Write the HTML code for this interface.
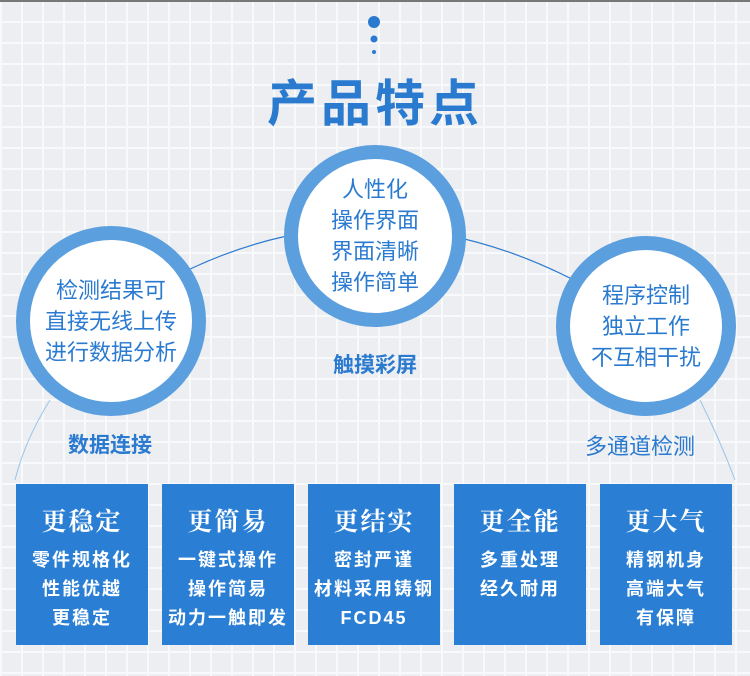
<!DOCTYPE html>
<html><head><meta charset="utf-8"><style>
body{margin:0;}
#p{position:relative;width:750px;height:676px;overflow:hidden;font-family:"Liberation Sans","Noto Sans CJK SC",sans-serif;
background-color:#eceef1;
background-image:linear-gradient(#f8f9fa 2px,transparent 2px),linear-gradient(90deg,#f8f9fa 2px,transparent 2px);
background-size:21px 21px;}
.c{position:absolute;border-radius:50%;background:#fff;border:14px solid #5b9fde;box-sizing:border-box;display:flex;align-items:center;justify-content:center;text-align:center;color:#2a7ad0;font-size:22px;line-height:31px}
.l{position:absolute;color:#2a7ad0;font-size:21px;font-weight:bold;transform:translateX(-50%);white-space:nowrap}
.b{position:absolute;top:484px;width:132px;height:161px;background:#2a7fd4;color:#fff;text-align:center}
.b h3{margin:18px 0 8px;font-family:"Noto Serif CJK SC",serif;font-size:25px;font-weight:bold;letter-spacing:2px}
.b p{margin:0;font-size:18px;line-height:29px;font-weight:bold;letter-spacing:2px}
</style></head><body><div id="p">
<div style="position:absolute;top:0;left:0;width:750px;height:2px;background:#777"></div>
<svg width="750" height="676" style="position:absolute;left:0;top:0">
<circle cx="374" cy="22" r="6" fill="#2a7ad0"/><circle cx="374" cy="39" r="3.5" fill="#2a7ad0"/><circle cx="374" cy="52" r="2" fill="#2a7ad0"/>
<path d="M150 290 Q375 160 610 300" stroke="#2a7ad0" stroke-width="1.2" fill="none"/>
<path d="M50 400 Q25 440 15 480" stroke="#9cc3ea" stroke-width="1" fill="none"/>
<path d="M700 400 Q720 440 735 480" stroke="#9cc3ea" stroke-width="1" fill="none"/>
</svg>
<div class="l" style="left:375px;top:64px;font-size:50px;font-weight:bold;letter-spacing:4px">产品特点</div>
<div class="c" style="left:16px;top:226px;width:190px;height:190px">检测结果可<br>直接无线上传<br>进行数据分析</div>
<div class="c" style="left:284px;top:145px;width:182px;height:182px">人性化<br>操作界面<br>界面清晰<br>操作简单</div>
<div class="c" style="left:556px;top:236px;width:180px;height:180px">程序控制<br>独立工作<br>不互相干扰</div>
<div class="l" style="left:375px;top:349px">触摸彩屏</div>
<div class="l" style="left:110px;top:429px">数据连接</div>
<div class="l" style="left:640px;top:429px;font-weight:normal;font-size:22px">多通道检测</div>
<div class="b" style="left:16px"><h3>更稳定</h3><p>零件规格化<br>性能优越<br>更稳定</p></div>
<div class="b" style="left:162px"><h3>更简易</h3><p>一键式操作<br>操作简易<br>动力一触即发</p></div>
<div class="b" style="left:308px"><h3>更结实</h3><p>密封严谨<br>材料采用铸钢<br>FCD45</p></div>
<div class="b" style="left:454px"><h3>更全能</h3><p>多重处理<br>经久耐用</p></div>
<div class="b" style="left:600px"><h3>更大气</h3><p>精钢机身<br>高端大气<br>有保障</p></div>
</div></body></html>
